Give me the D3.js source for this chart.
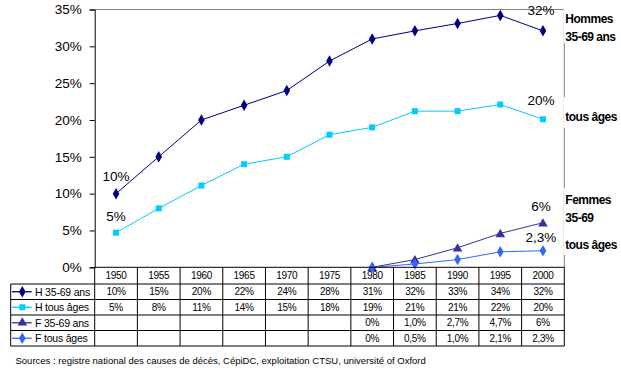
<!DOCTYPE html>
<html><head><meta charset="utf-8">
<script src="https://cdn.jsdelivr.net/npm/d3@7"></script>
<style>body{margin:0;background:#fff}svg{display:block}text{font-family:Arial,"Liberation Sans",sans-serif}</style>
</head><body>
<svg id="c" width="621" height="368"></svg>
<script>
const years = ["1950","1955","1960","1965","1970","1975","1980","1985","1990","1995","2000"];
const h3569 = [10,15,20,22,24,28,31,32.1,33.1,34.2,32.1];
const hTous = [4.7,8,11.1,14,15,18,19,21.2,21.2,22.1,20.1];
const f3569 = [null,null,null,null,null,null,0,1.05,2.65,4.6,6.05];
const fTous = [null,null,null,null,null,null,0,0.45,1.05,2.1,2.25];
const h3569Txt = ["10%","15%","20%","22%","24%","28%","31%","32%","33%","34%","32%"];
const hTousTxt = ["5%","8%","11%","14%","15%","18%","19%","21%","21%","22%","20%"];
const f3569Txt = ["","","","","","","0%","1,0%","2,7%","4,7%","6%"];
const fTousTxt = ["","","","","","","0%","0,5%","1,0%","2,1%","2,3%"];
const seriesNames = ["H 35-69 ans","H tous âges","F 35-69 ans","F tous âges"];
const yTicks = [0,5,10,15,20,25,30,35];
const source = "Sources : registre national des causes de décès, CépiDC, exploitation CTSU, université of Oxford";

const colors = ["#000080","#00CCFF","#333399","#3366FF"];
const symbols = [d3.symbolDiamond, d3.symbolSquare, d3.symbolTriangle, d3.symbolDiamond];
const symSize = [38, 36, 40, 38];

const svg = d3.select("#c");
const L = 94.7, R = 564.3, T = 9.5, B = 267.3;
const x = d3.scaleBand().domain(years).range([L, R]).padding(0);
const y = d3.scaleLinear().domain([0, 35]).range([B, T]);
const cx = d => x(d) + x.bandwidth()/2;

// plot border (gray top and right)
svg.append("path").attr("d", `M${L},${T}H${R}V${B}`).attr("fill","none").attr("stroke","#808080").attr("stroke-width",1);

// y axis
const yAxis = d3.axisLeft(y).tickValues(yTicks).tickFormat(d => d + "%").tickSize(5).tickPadding(8);
const ga = svg.append("g").attr("transform", `translate(${L},0)`).call(yAxis);
ga.select(".domain").attr("stroke","#000");
ga.selectAll(".tick line").attr("stroke","#000");
ga.selectAll(".tick text").attr("font-size","13.5px").attr("fill","#000").attr("font-family","Arial, 'Liberation Sans', sans-serif");

// series
const allSeries = [h3569, hTous, f3569, fTous];
allSeries.forEach((vals, i) => {
  const pts = years.map((yr, j) => ({yr, v: vals[j]})).filter(p => p.v !== null);
  const line = d3.line().x(p => cx(p.yr)).y(p => y(p.v));
  svg.append("path").datum(pts).attr("d", line).attr("fill","none").attr("stroke", colors[i]).attr("stroke-width", 1);
  svg.selectAll(null).data(pts).enter().append("path")
    .attr("d", d3.symbol().type(symbols[i]).size(symSize[i]))
    .attr("transform", p => `translate(${cx(p.yr)},${y(p.v) + (i===2 ? 1 : 0)})`)
    .attr("fill", colors[i]);
});

// data labels
const dataLabels = [
  {s:0, j:0, t:"10%", dy:-13},
  {s:1, j:0, t:"5%", dy:-12},
  {s:0, j:10, t:"32%", dy:-16},
  {s:1, j:10, t:"20%", dy:-14},
  {s:2, j:10, t:"6%", dy:-12},
  {s:3, j:10, t:"2,3%", dy:-9},
];
svg.selectAll(null).data(dataLabels).enter().append("text")
  .attr("x", d => cx(years[d.j]) - (d.j === 10 ? 2 : 0))
  .attr("y", d => y(allSeries[d.s][d.j]) + d.dy)
  .attr("text-anchor","middle").attr("font-size","13.5px").attr("fill","#000")
  .text(d => d.t);

// right labels (bold, with white background)
const rightLabels = [
  {lines:["Hommes","35-69 ans"], y0:23, top:9, bot:43},
  {lines:["tous âges"], y0:121, top:97, bot:128},
  {lines:["Femmes","35-69"], y0:204, top:188, bot:228},
  {lines:["tous âges"], y0:249, top:228, bot:255},
];
rightLabels.forEach(lb => {
  svg.append("rect").attr("x", R - 0.5).attr("y", lb.top).attr("width", 621 - R).attr("height", lb.bot - lb.top).attr("fill","#fff");
  lb.lines.forEach((t, k) => {
    svg.append("text").attr("x", R + 1).attr("y", lb.y0 + k*18)
      .attr("font-size","12px").attr("font-weight","bold").attr("letter-spacing","-0.5px").attr("fill","#000").text(t);
  });
});

// data table
const rowTop = [267.3, 284, 299.5, 315, 330.5, 346];
const legL = 10.7;
const tbl = svg.append("g").attr("stroke","#000").attr("stroke-width",1).attr("fill","none");
// horizontal lines
tbl.append("line").attr("x1", L).attr("x2", R).attr("y1", rowTop[0]).attr("y2", rowTop[0]);
for (let r = 1; r < rowTop.length; r++) {
  tbl.append("line").attr("x1", legL).attr("x2", R).attr("y1", rowTop[r]).attr("y2", rowTop[r]);
}
// vertical lines
tbl.append("line").attr("x1", legL).attr("x2", legL).attr("y1", rowTop[1]).attr("y2", rowTop[5]);
years.concat(["end"]).forEach((yr, j) => {
  const xx = j < years.length ? x(yr) : R;
  tbl.append("line").attr("x1", xx).attr("x2", xx).attr("y1", rowTop[0]).attr("y2", rowTop[5]);
});
// header
svg.selectAll(null).data(years).enter().append("text")
  .attr("x", d => cx(d)).attr("y", (rowTop[0]+rowTop[1])/2 + 3.5)
  .attr("text-anchor","middle").attr("font-size","10px").attr("letter-spacing","-0.3px").text(d => d);
const rowTexts = [h3569Txt, hTousTxt, f3569Txt, fTousTxt];
rowTexts.forEach((arr, r) => {
  const yc = (rowTop[r+1] + rowTop[r+2]) / 2;
  svg.selectAll(null).data(arr.map((t, j) => ({t, yr: years[j]}))).enter().append("text")
    .attr("x", d => cx(d.yr)).attr("y", yc + 3.5)
    .attr("text-anchor","middle").attr("font-size","10px").attr("letter-spacing","-0.3px").text(d => d.t);
  // legend key
  svg.append("line").attr("x1", 12).attr("x2", 31.7).attr("y1", yc).attr("y2", yc).attr("stroke", colors[r]).attr("stroke-width", 1.3);
  svg.append("path").attr("d", d3.symbol().type(symbols[r]).size(symSize[r])()).attr("transform", `translate(22.3,${yc})`).attr("fill", colors[r]);
  svg.append("text").attr("x", 35).attr("y", yc + 4).attr("font-size","10.5px").attr("letter-spacing","-0.2px").text(seriesNames[r]);
});

// source
svg.append("text").attr("x", 15.5).attr("y", 363.5).attr("font-size","9.5px").text(source);
</script>
</body></html>
